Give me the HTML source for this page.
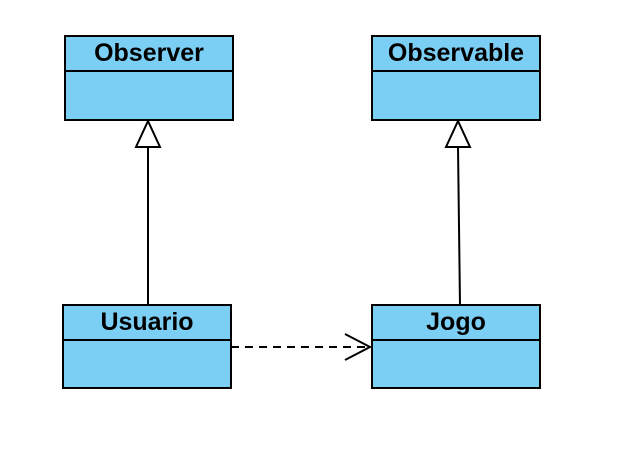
<!DOCTYPE html>
<html><head><style>html,body{margin:0;padding:0;background:#fff;}svg{display:block}</style></head>
<body>
<svg width="636" height="454" viewBox="0 0 636 454" xmlns="http://www.w3.org/2000/svg" font-family="Liberation Sans, sans-serif">
<g stroke="#000" stroke-width="2" fill="#7ccff4">
<rect x="65" y="36" width="168" height="84"/><line x1="65" y1="71" x2="233" y2="71"/>
<rect x="372" y="36" width="168" height="84"/><line x1="372" y1="71" x2="540" y2="71"/>
<rect x="63" y="305" width="168" height="83"/><line x1="63" y1="340" x2="231" y2="340"/>
<rect x="372" y="305" width="168" height="83"/><line x1="372" y1="340" x2="540" y2="340"/>
</g>
<g font-weight="bold" font-size="25" text-anchor="middle" fill="#000">
<text x="149" y="61">Observer</text>
<text x="456" y="61">Observable</text>
<text x="147" y="330">Usuario</text>
<text x="456" y="330">Jogo</text>
</g>
<g stroke="#000" stroke-width="2" fill="none">
<line x1="148" y1="305" x2="148" y2="147"/>
<polygon points="148,121 136,147 160,147" fill="#fff"/>
<line x1="460" y1="305" x2="458" y2="147"/>
<polygon points="458,121 446,147 470,147" fill="#fff"/>
<line x1="231" y1="347" x2="370" y2="347" stroke-dasharray="8,6"/>
<polyline points="345,334 370,347 345,360"/>
</g>
</svg>
</body></html>
